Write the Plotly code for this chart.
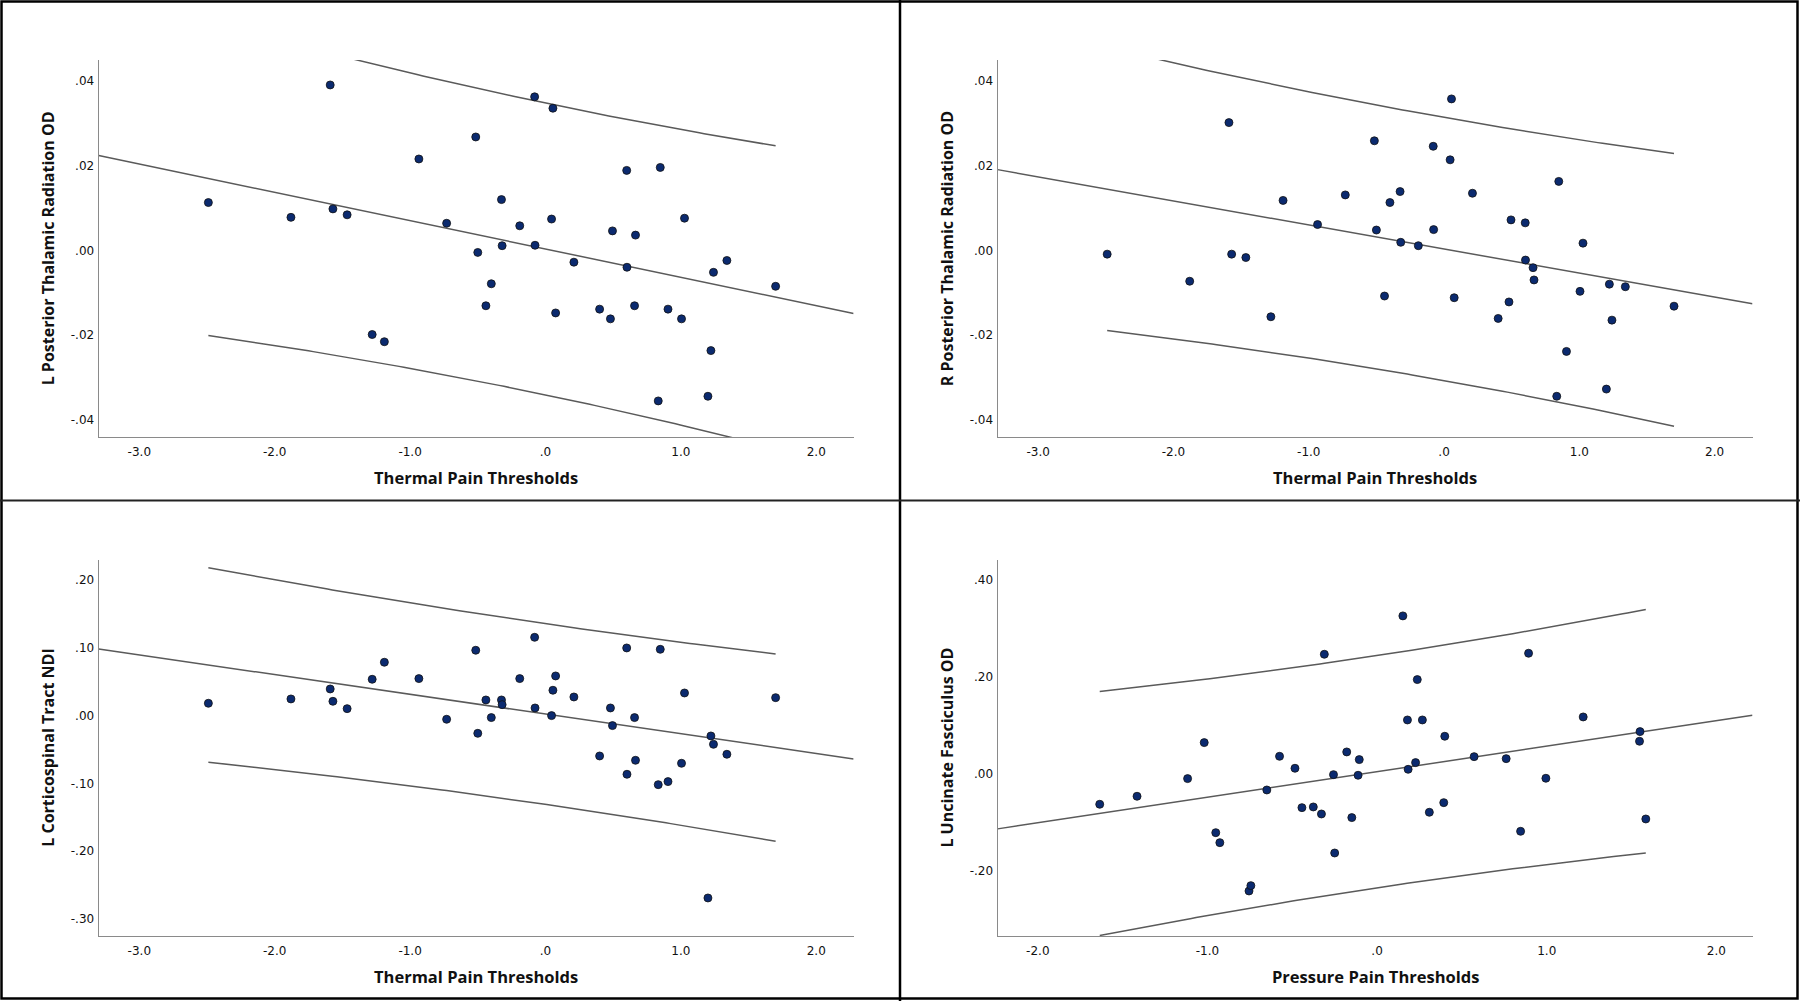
import numpy as np
import plotly.graph_objects as go

# thermal pain thresholds (shared by the first three panels)
thermal = [-2.49, -1.88, -1.59, -1.57, -1.465, -1.28, -1.19, -0.935, -0.73, -0.515,
           -0.50, -0.44, -0.40, -0.325, -0.32, -0.19, -0.08, -0.077, 0.045, 0.055,
           0.075, 0.21, 0.40, 0.48, 0.495, 0.60, 0.602, 0.658, 0.665, 0.833,
           0.848, 0.905, 1.005, 1.027, 1.20, 1.222, 1.241, 1.34, 1.70]

l_ptr_od = [0.0113, 0.0078, 0.0391, 0.0098, 0.0084, -0.0199, -0.0216, 0.0216, 0.0064, 0.0268,
            -0.0005, -0.0131, -0.0079, 0.0120, 0.0011, 0.0058, 0.0363, 0.0012, 0.0074, 0.0336,
            -0.0148, -0.0028, -0.0139, -0.0162, 0.0046, 0.0189, -0.0040, -0.0131, 0.0036, -0.0356,
            0.0196, -0.0139, -0.0162, 0.0076, -0.0345, -0.0237, -0.0052, -0.0024, -0.0085]

r_ptr_od = [-0.0009, -0.0073, 0.0302, -0.0009, -0.0017, -0.0157, 0.0118, 0.0061, 0.0131, 0.0259,
            0.0048, -0.0108, 0.0113, 0.0139, 0.0019, 0.0011, 0.0246, 0.0049, 0.0214, 0.0358,
            -0.0112, 0.0135, -0.0161, -0.0122, 0.0072, 0.0065, -0.0023, -0.0041, -0.0070, -0.0345,
            0.0163, -0.0239, -0.0097, 0.0017, -0.0328, -0.0080, -0.0165, -0.0086, -0.0132]

l_cst_ndi = [0.0182, 0.0246, 0.0393, 0.0211, 0.0103, 0.0536, 0.0787, 0.0546, -0.0054, 0.0964,
             -0.0261, 0.0231, -0.0029, 0.0231, 0.0162, 0.0546, 0.1155, 0.0113, 0.0000, 0.0374,
             0.0585, 0.0275, -0.0595, 0.0113, -0.0147, 0.0998, -0.0865, -0.0029, -0.0659, -0.1018,
             0.0978, -0.0973, -0.0703, 0.0334, -0.2689, -0.0300, -0.0423, -0.0570, 0.0265]

pressure = [-1.635, -1.415, -1.117, -1.019, -0.951, -0.927, -0.755, -0.744, -0.650, -0.575,
            -0.484, -0.443, -0.376, -0.328, -0.311, -0.257, -0.250, -0.179, -0.149, -0.112,
            -0.105, 0.152, 0.179, 0.183, 0.227, 0.237, 0.267, 0.308, 0.393, 0.399,
            0.572, 0.761, 0.846, 0.893, 0.995, 1.215, 1.547, 1.550, 1.584]

l_uf_od = [-0.0625, -0.0460, -0.0096, 0.0646, -0.1210, -0.1416, -0.2412, -0.2302, -0.0330, 0.0364,
           0.0117, -0.0694, -0.0680, -0.0825, 0.2467, -0.0014, -0.1629, 0.0454, -0.0900, -0.0027,
           0.0296, 0.3258, 0.1113, 0.0096, 0.0234, 0.1945, 0.1113, -0.0790, -0.0591, 0.0777,
           0.0357, 0.0316, -0.1182, 0.2488, -0.0089, 0.1175, 0.0674, 0.0873, -0.0928]

thermal_ticks = [-3, -2, -1, 0, 1, 2]
thermal_ticktext = ["-3.0", "-2.0", "-1.0", ".0", "1.0", "2.0"]
pressure_ticks = [-2, -1, 0, 1, 2]
pressure_ticktext = ["-2.0", "-1.0", ".0", "1.0", "2.0"]
od_ticks = [-0.04, -0.02, 0, 0.02, 0.04]
od_ticktext = ["-.04", "-.02", ".00", ".02", ".04"]
ndi_ticks = [-0.3, -0.2, -0.1, 0, 0.1, 0.2]
ndi_ticktext = ["-.30", "-.20", "-.10", ".00", ".10", ".20"]
uf_ticks = [-0.2, 0, 0.2, 0.4]
uf_ticktext = ["-.20", ".00", ".20", ".40"]

T_975 = 2.026  # t(0.975, df=37)

W, H = 1800, 1001
LINE = "#5a5a5a"
DOT = "#0b2a6f"

# (x, y, xtitle, ytitle, xrange, yrange, xticks, yticks, px-box [left, right, top, bottom])
panels = [
    (thermal, l_ptr_od, "Thermal Pain Thresholds", "L Posterior Thalamic Radiation OD",
     [-3.30, 2.276], [-0.0442, 0.045], (thermal_ticks, thermal_ticktext), (od_ticks, od_ticktext),
     (98.7, 853.6, 60, 437.3)),
    (thermal, r_ptr_od, "Thermal Pain Thresholds", "R Posterior Thalamic Radiation OD",
     [-3.30, 2.28], [-0.0442, 0.045], (thermal_ticks, thermal_ticktext), (od_ticks, od_ticktext),
     (997.6, 1752.5, 60, 437.3)),
    (thermal, l_cst_ndi, "Thermal Pain Thresholds", "L Corticospinal Tract NDI",
     [-3.30, 2.276], [-0.325, 0.2295], (thermal_ticks, thermal_ticktext), (ndi_ticks, ndi_ticktext),
     (98.7, 853.6, 560, 936)),
    (pressure, l_uf_od, "Pressure Pain Thresholds", "L Uncinate Fasciculus OD",
     [-2.237, 2.213], [-0.334, 0.441], (pressure_ticks, pressure_ticktext), (uf_ticks, uf_ticktext),
     (997.6, 1752.5, 560, 936)),
]

fig = go.Figure()
annotations = []
for i, (xs, ys, xt, yt, xr, yr, xtk, ytk, box) in enumerate(panels, start=1):
    x = np.array(xs)
    y = np.array(ys)
    n = len(x)
    b, a = np.polyfit(x, y, 1)
    resid = y - (a + b * x)
    s = np.sqrt((resid ** 2).sum() / (n - 2))
    sxx = ((x - x.mean()) ** 2).sum()

    suffix = "" if i == 1 else str(i)
    xa, ya = "x" + suffix, "y" + suffix

    # fit line over the full axis, prediction band over the data range
    xf = np.linspace(xr[0], xr[1], 50)
    fig.add_trace(go.Scatter(x=xf, y=a + b * xf, mode="lines", xaxis=xa, yaxis=ya,
                             line=dict(color=LINE, width=1.5), hoverinfo="skip"))
    xp = np.linspace(x.min(), x.max(), 120)
    half = T_975 * s * np.sqrt(1 + 1 / n + (xp - x.mean()) ** 2 / sxx)
    for sign in (1, -1):
        fig.add_trace(go.Scatter(x=xp, y=a + b * xp + sign * half, mode="lines", xaxis=xa, yaxis=ya,
                                 line=dict(color=LINE, width=1.5), hoverinfo="skip"))
    fig.add_trace(go.Scatter(x=x, y=y, mode="markers", xaxis=xa, yaxis=ya,
                             marker=dict(size=8, color=DOT, line=dict(color="#111111", width=0.8))))

    left, right, top, bottom = box
    axis_common = dict(showgrid=False, zeroline=False, showline=True, linecolor="#8a8a8a",
                       linewidth=1.2, ticks="", mirror=False,
                       tickfont=dict(family="DejaVu Sans", size=12, color="#111111"))
    fig.update_layout(**{
        "xaxis" + suffix: dict(domain=[left / W, right / W], range=xr, anchor=ya,
                               tickvals=xtk[0], ticktext=xtk[1], ticklabelstandoff=3, **axis_common),
        "yaxis" + suffix: dict(domain=[1 - bottom / H, 1 - top / H], range=yr, anchor=xa,
                               tickvals=ytk[0], ticktext=ytk[1], ticklabelstandoff=1, **axis_common),
    })
    annotations.append(dict(text=xt, xref="paper", yref="paper", x=(left + right) / 2 / W,
                            y=1 - (bottom + 40) / H, showarrow=False, xanchor="center", yanchor="middle",
                            font=dict(family="Open Sans", size=16.5, color="#111111", weight="bold")))
    annotations.append(dict(text=yt, xref="paper", yref="paper", x=(left - 51) / W,
                            y=1 - (top + bottom) / 2 / H, showarrow=False, textangle=-90,
                            xanchor="center", yanchor="middle",
                            font=dict(family="Open Sans", size=16, color="#111111", weight="bold")))

# panel frames
shapes = [
    dict(type="rect", xref="paper", yref="paper", x0=1.5 / W, x1=1797.5 / W, y0=1 - 998.5 / H,
         y1=1 - 1.5 / H, line=dict(color="#000000", width=2.5)),
    dict(type="line", xref="paper", yref="paper", x0=900 / W, x1=900 / W, y0=0, y1=1,
         line=dict(color="#000000", width=2.5)),
    dict(type="line", xref="paper", yref="paper", x0=0, x1=1, y0=1 - 500.5 / H, y1=1 - 500.5 / H,
         line=dict(color="#222222", width=2)),
]

fig.update_layout(width=W, height=H, margin=dict(l=0, r=0, t=0, b=0),
                  paper_bgcolor="white", plot_bgcolor="white", showlegend=False,
                  annotations=annotations, shapes=shapes)

# drop the browser's default body margin so the figure sits at the page origin
fig.write_html("out.html", config={"displayModeBar": False},
               post_script="document.body.style.margin='0';")
